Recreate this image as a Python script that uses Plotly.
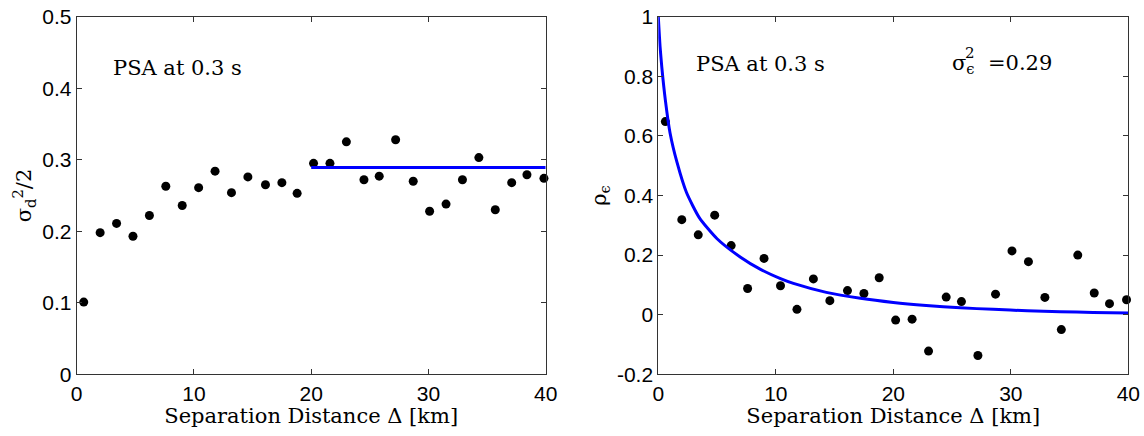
import plotly.graph_objects as go

# ---- data ----
distance_km = [0.6, 2.0, 3.4, 4.8, 6.2, 7.6, 9.0, 10.4, 11.8, 13.2, 14.6, 16.1, 17.5,
               18.8, 20.2, 21.6, 23.0, 24.5, 25.8, 27.2, 28.7, 30.1, 31.5, 32.9, 34.3,
               35.7, 37.1, 38.4, 39.85]
semivariance = [0.101, 0.198, 0.211, 0.193, 0.222, 0.263, 0.236, 0.261, 0.284, 0.254,
                0.276, 0.265, 0.268, 0.253, 0.295, 0.295, 0.325, 0.272, 0.277, 0.328,
                0.270, 0.228, 0.238, 0.272, 0.303, 0.230, 0.268, 0.279, 0.274]
correlation = [0.648, 0.319, 0.268, 0.334, 0.232, 0.088, 0.189, 0.097, 0.018, 0.120,
               0.047, 0.081, 0.071, 0.124, -0.018, -0.015, -0.122, 0.059, 0.044, -0.137,
               0.069, 0.214, 0.178, 0.058, -0.050, 0.200, 0.073, 0.037, 0.050]

sill_x = [20, 40]
sill_y = [0.289, 0.289]

fit_x = [0, 0.15, 0.3, 0.6, 1.0, 1.6, 2.4, 3.5, 5.0, 7.0, 8.7, 10.4, 11.5, 14.3, 17.2,
         20.0, 22.8, 25.7, 28.5, 31.4, 34.2, 37.0, 40.0]
fit_y = [1.0, 0.9, 0.83, 0.72, 0.61, 0.51, 0.41, 0.325, 0.255, 0.193, 0.152, 0.121,
         0.105, 0.075, 0.055, 0.041, 0.031, 0.023, 0.018, 0.013, 0.010, 0.0076, 0.0055]

x_ticks = [0, 10, 20, 30, 40]
left_y_ticks = [0, 0.1, 0.2, 0.3, 0.4, 0.5]
left_y_text = ["0", "0.1", "0.2", "0.3", "0.4", "0.5"]
right_y_ticks = [-0.2, 0, 0.2, 0.4, 0.6, 0.8, 1.0]
right_y_text = ["-0.2", "0", "0.2", "0.4", "0.6", "0.8", "1"]

x_title = "Separation Distance Δ [km]"
label_text = "PSA at 0.3 s"

SERIF = "DejaVu Serif"
SANS = "Liberation Sans"
BLUE = "#0000ff"

fig = go.Figure()

fig.add_trace(go.Scatter(x=distance_km, y=semivariance, mode="markers",
                         marker=dict(color="black", size=9), xaxis="x", yaxis="y",
                         showlegend=False, cliponaxis=False))
fig.add_trace(go.Scatter(x=sill_x, y=sill_y, mode="lines",
                         line=dict(color=BLUE, width=3), xaxis="x", yaxis="y",
                         showlegend=False))
fig.add_trace(go.Scatter(x=distance_km, y=correlation, mode="markers",
                         marker=dict(color="black", size=9), xaxis="x2", yaxis="y2",
                         showlegend=False, cliponaxis=False))
fig.add_trace(go.Scatter(x=fit_x, y=fit_y, mode="lines",
                         line=dict(color=BLUE, width=3, shape="spline", smoothing=0.6),
                         xaxis="x2", yaxis="y2", showlegend=False))

axis_common = dict(showgrid=False, zeroline=False, showline=True, linecolor="#333",
                   linewidth=1, mirror="ticks", ticks="inside", ticklen=5,
                   tickcolor="#333", tickfont=dict(family=SANS, size=21, color="black"),
                   automargin=False)

y_bottom = 1 - 374.3 / 436
y_top = 1 - 16.7 / 436

title_font = dict(family=SERIF, size=21, color="black")
sup_font = dict(family=SERIF, size=15, color="black")

fig.update_layout(
    width=1144, height=436,
    margin=dict(l=0, r=0, t=0, b=0),
    paper_bgcolor="white", plot_bgcolor="white",
    xaxis=dict(domain=[76.7 / 1144, 545.7 / 1144], range=[0, 40], tickvals=x_ticks,
               anchor="y", title=dict(text=x_title, font=title_font, standoff=2),
               **axis_common),
    yaxis=dict(domain=[y_bottom, y_top], range=[0, 0.5], tickvals=left_y_ticks,
               ticktext=left_y_text, anchor="x",
               title=dict(text="σ<sub>d</sub><sup>2</sup>/2", font=title_font, standoff=4),
               **axis_common),
    xaxis2=dict(domain=[658.3 / 1144, 1128.3 / 1144], range=[0, 40], tickvals=x_ticks,
                anchor="y2", title=dict(text=x_title, font=title_font, standoff=2),
                **axis_common),
    yaxis2=dict(domain=[y_bottom, y_top], range=[-0.2, 1.0], tickvals=right_y_ticks,
                ticktext=right_y_text, anchor="x2",
                title=dict(text="ρ<sub>ϵ</sub>", font=title_font, standoff=4),
                **axis_common),
    annotations=[
        dict(x=2.9, y=0.428, xref="x", yref="y", text=label_text, showarrow=False,
             xanchor="left", yanchor="middle", font=title_font),
        dict(x=3.0, y=0.841, xref="x2", yref="y2", text=label_text, showarrow=False,
             xanchor="left", yanchor="middle", font=title_font),
        dict(x=24.8, y=0.841, xref="x2", yref="y2",
             text="σ<sub>ϵ</sub>  =0.29", showarrow=False,
             xanchor="left", yanchor="middle", font=title_font),
        dict(x=25.9, y=0.878, xref="x2", yref="y2", text="2", showarrow=False,
             xanchor="left", yanchor="middle", font=sup_font),
    ],
)

fig.write_html("out.html")
